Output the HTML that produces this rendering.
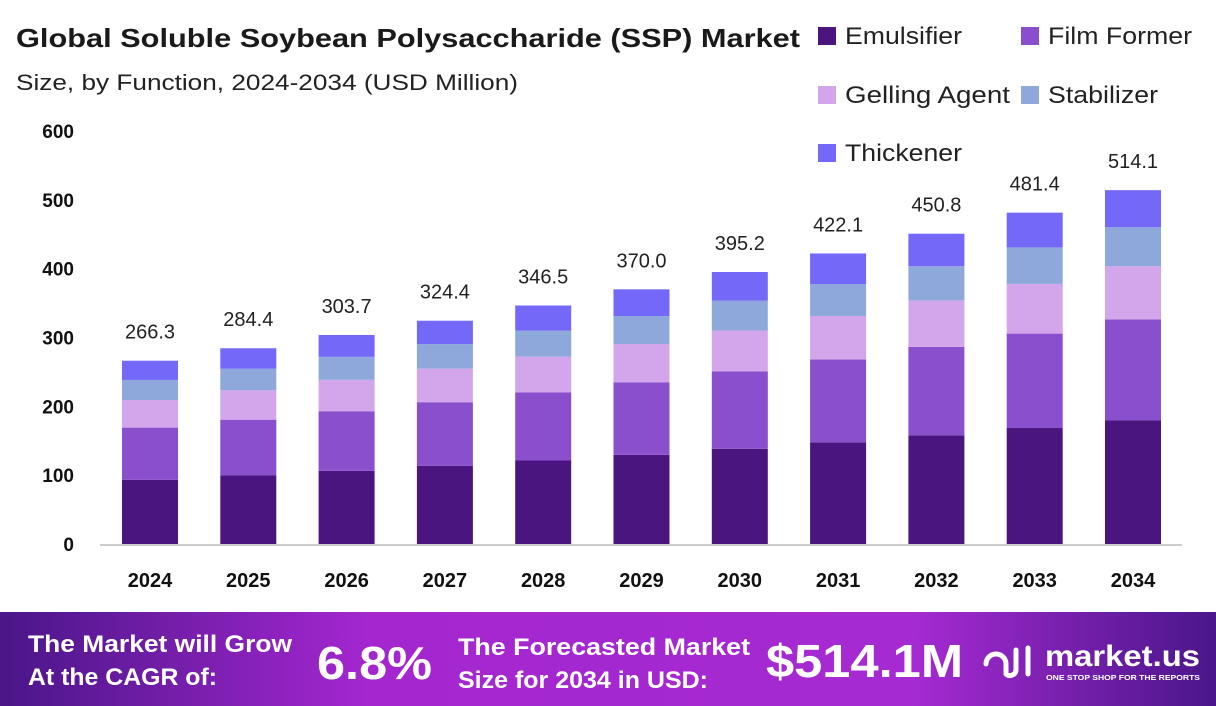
<!DOCTYPE html>
<html><head><meta charset="utf-8"><style>
body{margin:0;width:1216px;height:706px;overflow:hidden;background:#fff;font-family:"Liberation Sans",sans-serif}
svg{display:block}
</style></head><body>
<svg id="c" width="1216" height="706">
<defs><linearGradient id="fg" x1="0" x2="1" y1="0" y2="0"><stop offset="0" stop-color="#4a1688"/><stop offset="0.3" stop-color="#a326cf"/><stop offset="0.75" stop-color="#a62ad2"/><stop offset="1" stop-color="#4a168a"/></linearGradient></defs>
<text x="16" y="47" font-size="26" font-weight="bold" fill="#1a1a1a" textLength="784" lengthAdjust="spacingAndGlyphs">Global Soluble Soybean Polysaccharide (SSP) Market</text>
<text x="16" y="90" font-size="22" fill="#222" textLength="502" lengthAdjust="spacingAndGlyphs">Size, by Function, 2024-2034 (USD Million)</text>
<g id="legend"></g>
<g id="yaxis"></g>
<line x1="100" x2="1182" y1="545" y2="545" stroke="#ccc" stroke-width="2"/>
<g id="bars"></g>
<g id="xaxis"></g>
<rect x="0" y="612" width="1216" height="94" fill="url(#fg)"/>
<g fill="#fff" font-weight="bold">
<text x="28" y="652" font-size="24" textLength="264" lengthAdjust="spacingAndGlyphs">The Market will Grow</text>
<text x="28" y="685" font-size="24" textLength="189" lengthAdjust="spacingAndGlyphs">At the CAGR of:</text>
<text x="317" y="679" font-size="46" textLength="115" lengthAdjust="spacingAndGlyphs">6.8%</text>
<text x="458" y="655" font-size="24" textLength="292" lengthAdjust="spacingAndGlyphs">The Forecasted Market</text>
<text x="458" y="688" font-size="24" textLength="250" lengthAdjust="spacingAndGlyphs">Size for 2034 in USD:</text>
<text x="766" y="677" font-size="46" textLength="197" lengthAdjust="spacingAndGlyphs">$514.1M</text>
<text x="1045" y="666" font-size="30" textLength="155" lengthAdjust="spacingAndGlyphs">market.us</text>
<text x="1046" y="680" font-size="7.5" textLength="154" lengthAdjust="spacingAndGlyphs">ONE STOP SHOP FOR THE REPORTS</text>
</g>
<g fill="none" stroke="#fff" stroke-width="5" stroke-linecap="round">
<path d="M986 664 a10 10 0 0 1 20 0 v8"/><path d="M1016 650 v20 a6 6 0 0 1 -10 4"/><path d="M1028 648 v26"/>
</g>
</svg>
<script>
const years=["2024","2025","2026","2027","2028","2029","2030","2031","2032","2033","2034"];
const totals=[266.3,284.4,303.7,324.4,346.5,370.0,395.2,422.1,450.8,481.4,514.1];
const emulsifier=[93.2,99.5,106.3,113.5,121.3,129.5,138.3,147.7,157.8,168.5,179.9];
const filmFormer=[75.9,81.1,86.6,92.5,98.8,105.5,112.6,120.3,128.5,137.2,146.5];
const gellingAgent=[40.0,42.7,45.6,48.7,52.0,55.5,59.3,63.3,67.6,72.2,77.1];
const stabilizer=[29.3,31.3,33.4,35.7,38.1,40.7,43.5,46.4,49.6,53.0,56.6];
const thickener=[27.9,29.8,31.8,34.0,36.3,38.8,41.5,44.4,47.3,50.5,54.0];
const yTicks=[0,100,200,300,400,500,600];
const seriesNames=["Emulsifier","Film Former","Gelling Agent","Stabilizer","Thickener"];
const colors=["#4b1580","#8a4fcc","#d3a5ea","#8fa8dc","#7468f8"];
const series=[emulsifier,filmFormer,gellingAgent,stabilizer,thickener];
const NS="http://www.w3.org/2000/svg";
const y=v=>544-v*0.6883;
const x=i=>122+i*98.3;
const bw=56;
function mk(t,a,p){const e=document.createElementNS(NS,t);for(const k in a)e.setAttribute(k,a[k]);p.appendChild(e);return e;}
const ya=document.getElementById('yaxis');
yTicks.forEach(t=>{const e=mk('text',{x:74,y:y(t)+7,'font-size':19,'font-weight':'bold','text-anchor':'end',fill:'#111'},ya);e.textContent=t;

});
const bg=document.getElementById('bars'),xa=document.getElementById('xaxis');
years.forEach((yr,i)=>{let acc=0;
series.forEach((s,k)=>{const r=mk('rect',{x:x(i),y:y(acc+s[i]),width:bw,height:y(acc)-y(acc+s[i]),fill:colors[k]},bg);

acc+=s[i];});
const l=mk('text',{x:x(i)+bw/2,y:y(totals[i])-22,'font-size':20,'text-anchor':'middle',fill:'#222'},bg);l.textContent=totals[i].toFixed(1);


const xl=mk('text',{x:x(i)+bw/2,y:587,'font-size':20,'font-weight':'bold','text-anchor':'middle',fill:'#111'},xa);xl.textContent=yr;

});
const lg=document.getElementById('legend');
const lp=[[818,36],[1021,36],[818,95],[1021,95],[818,153]];
const lw=[117,144,165,110,117];
seriesNames.forEach((n,k)=>{const g=mk('g',{},lg);


mk('rect',{x:lp[k][0],y:lp[k][1]-9,width:18,height:18,fill:colors[k]},g);
const t=mk('text',{x:lp[k][0]+27,y:lp[k][1]+8,'font-size':24,fill:'#222',textLength:lw[k],lengthAdjust:'spacingAndGlyphs'},g);t.textContent=n;});
</script>
</body></html>
